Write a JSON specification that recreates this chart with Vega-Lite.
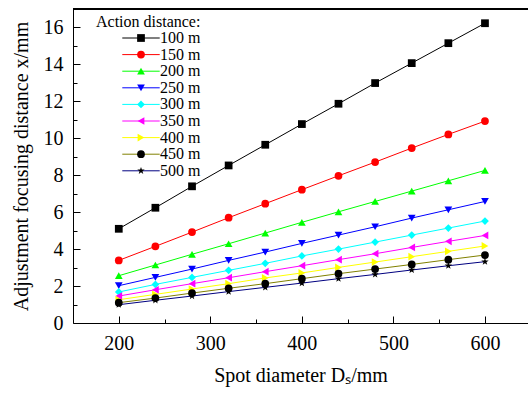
{
  "$schema": "https://vega.github.io/schema/vega-lite/v6.json",
  "autosize": {"type": "none"},
  "padding": {"left": 73, "top": 9, "right": 0, "bottom": 71},
  "width": 455,
  "height": 314,
  "background": "white",
  "config": {
    "view": {"stroke": null},
    "font": "Liberation Serif",
    "axis": {
      "grid": false,
      "labelFont": "Liberation Serif",
      "labelFontSize": 20,
      "labelColor": "black",
      "labelOverlap": false,
      "titleFont": "Liberation Serif",
      "titleFontSize": 20,
      "titleFontWeight": "normal",
      "titleColor": "black",
      "domainColor": "black",
      "domainWidth": 1,
      "tickColor": "black",
      "tickWidth": 1
    },
    "legend": {
      "labelFont": "Liberation Serif",
      "labelFontSize": 16,
      "labelColor": "black",
      "titleFont": "Liberation Serif",
      "titleFontSize": 16,
      "titleFontWeight": "normal",
      "titleColor": "black",
      "padding": 0,
      "rowPadding": 0.6,
      "titlePadding": 0
    }
  },
  "data": {
    "values": [
      {"series": "100 m", "D": 200, "x": 5.10}, {"series": "100 m", "D": 240, "x": 6.24}, {"series": "100 m", "D": 280, "x": 7.40}, {"series": "100 m", "D": 320, "x": 8.53}, {"series": "100 m", "D": 360, "x": 9.65}, {"series": "100 m", "D": 400, "x": 10.77}, {"series": "100 m", "D": 440, "x": 11.87}, {"series": "100 m", "D": 480, "x": 12.99}, {"series": "100 m", "D": 520, "x": 14.07}, {"series": "100 m", "D": 560, "x": 15.15}, {"series": "100 m", "D": 600, "x": 16.23},
      {"series": "150 m", "D": 200, "x": 3.39}, {"series": "150 m", "D": 240, "x": 4.15}, {"series": "150 m", "D": 280, "x": 4.92}, {"series": "150 m", "D": 320, "x": 5.70}, {"series": "150 m", "D": 360, "x": 6.46}, {"series": "150 m", "D": 400, "x": 7.22}, {"series": "150 m", "D": 440, "x": 7.97}, {"series": "150 m", "D": 480, "x": 8.71}, {"series": "150 m", "D": 520, "x": 9.47}, {"series": "150 m", "D": 560, "x": 10.21}, {"series": "150 m", "D": 600, "x": 10.93},
      {"series": "200 m", "D": 200, "x": 2.56}, {"series": "200 m", "D": 240, "x": 3.14}, {"series": "200 m", "D": 280, "x": 3.72}, {"series": "200 m", "D": 320, "x": 4.29}, {"series": "200 m", "D": 360, "x": 4.87}, {"series": "200 m", "D": 400, "x": 5.45}, {"series": "200 m", "D": 440, "x": 6.02}, {"series": "200 m", "D": 480, "x": 6.58}, {"series": "200 m", "D": 520, "x": 7.14}, {"series": "200 m", "D": 560, "x": 7.70}, {"series": "200 m", "D": 600, "x": 8.26},
      {"series": "250 m", "D": 200, "x": 2.02}, {"series": "250 m", "D": 240, "x": 2.47}, {"series": "250 m", "D": 280, "x": 2.92}, {"series": "250 m", "D": 320, "x": 3.39}, {"series": "250 m", "D": 360, "x": 3.84}, {"series": "250 m", "D": 400, "x": 4.31}, {"series": "250 m", "D": 440, "x": 4.76}, {"series": "250 m", "D": 480, "x": 5.21}, {"series": "250 m", "D": 520, "x": 5.68}, {"series": "250 m", "D": 560, "x": 6.13}, {"series": "250 m", "D": 600, "x": 6.58},
      {"series": "300 m", "D": 200, "x": 1.68}, {"series": "300 m", "D": 240, "x": 2.09}, {"series": "300 m", "D": 280, "x": 2.47}, {"series": "300 m", "D": 320, "x": 2.85}, {"series": "300 m", "D": 360, "x": 3.23}, {"series": "300 m", "D": 400, "x": 3.63}, {"series": "300 m", "D": 440, "x": 4.00}, {"series": "300 m", "D": 480, "x": 4.38}, {"series": "300 m", "D": 520, "x": 4.76}, {"series": "300 m", "D": 560, "x": 5.14}, {"series": "300 m", "D": 600, "x": 5.52},
      {"series": "350 m", "D": 200, "x": 1.46}, {"series": "350 m", "D": 240, "x": 1.80}, {"series": "350 m", "D": 280, "x": 2.13}, {"series": "350 m", "D": 320, "x": 2.45}, {"series": "350 m", "D": 360, "x": 2.78}, {"series": "350 m", "D": 400, "x": 3.10}, {"series": "350 m", "D": 440, "x": 3.43}, {"series": "350 m", "D": 480, "x": 3.75}, {"series": "350 m", "D": 520, "x": 4.09}, {"series": "350 m", "D": 560, "x": 4.42}, {"series": "350 m", "D": 600, "x": 4.74},
      {"series": "400 m", "D": 200, "x": 1.26}, {"series": "400 m", "D": 240, "x": 1.55}, {"series": "400 m", "D": 280, "x": 1.84}, {"series": "400 m", "D": 320, "x": 2.13}, {"series": "400 m", "D": 360, "x": 2.44}, {"series": "400 m", "D": 400, "x": 2.71}, {"series": "400 m", "D": 440, "x": 3.01}, {"series": "400 m", "D": 480, "x": 3.30}, {"series": "400 m", "D": 520, "x": 3.59}, {"series": "400 m", "D": 560, "x": 3.88}, {"series": "400 m", "D": 600, "x": 4.17},
      {"series": "450 m", "D": 200, "x": 1.10}, {"series": "450 m", "D": 240, "x": 1.35}, {"series": "450 m", "D": 280, "x": 1.62}, {"series": "450 m", "D": 320, "x": 1.88}, {"series": "450 m", "D": 360, "x": 2.13}, {"series": "450 m", "D": 400, "x": 2.40}, {"series": "450 m", "D": 440, "x": 2.67}, {"series": "450 m", "D": 480, "x": 2.92}, {"series": "450 m", "D": 520, "x": 3.17}, {"series": "450 m", "D": 560, "x": 3.43}, {"series": "450 m", "D": 600, "x": 3.68},
      {"series": "500 m", "D": 200, "x": 0.99}, {"series": "500 m", "D": 240, "x": 1.23}, {"series": "500 m", "D": 280, "x": 1.46}, {"series": "500 m", "D": 320, "x": 1.70}, {"series": "500 m", "D": 360, "x": 1.93}, {"series": "500 m", "D": 400, "x": 2.16}, {"series": "500 m", "D": 440, "x": 2.40}, {"series": "500 m", "D": 480, "x": 2.63}, {"series": "500 m", "D": 520, "x": 2.87}, {"series": "500 m", "D": 560, "x": 3.10}, {"series": "500 m", "D": 600, "x": 3.32}
    ]
  },
  "layer": [
    {
      "mark": {"type": "line", "strokeWidth": 1},
      "encoding": {
        "x": {
          "field": "D", "type": "quantitative",
          "scale": {"domain": [150, 647], "nice": false, "zero": false},
          "axis": {
            "title": "Spot diameter Dₛ/mm",
            "values": [200, 250, 300, 350, 400, 450, 500, 550, 600],
            "labelExpr": "datum.value % 100 === 0 ? datum.label : ''",
            "labelOverlap": false,
            "labelFontSize": {"condition": {"test": "datum.value % 100 === 0", "value": 20}, "value": 1},
            "tickSize": {"condition": {"test": "datum.value % 100 === 0", "value": -7}, "value": -4},
            "labelPadding": 17,
            "titlePadding": 12
          }
        },
        "y": {
          "field": "x", "type": "quantitative",
          "scale": {"domain": [0, 17], "nice": false},
          "axis": {
            "title": "Adjustment focusing distance x/mm",
            "values": [0, 1, 2, 3, 4, 5, 6, 7, 8, 9, 10, 11, 12, 13, 14, 15, 16],
            "labelExpr": "datum.value % 2 === 0 ? datum.label : ''",
            "labelOverlap": false,
            "labelFontSize": {"condition": {"test": "datum.value % 2 === 0", "value": 20}, "value": 1},
            "tickSize": {"condition": {"test": "datum.value % 2 === 0", "value": -7}, "value": -4},
            "labelPadding": 17,
            "titlePadding": 12
          }
        },
        "stroke": {
          "field": "series", "type": "nominal",
          "scale": {
            "domain": ["100 m", "150 m", "200 m", "250 m", "300 m", "350 m", "400 m", "450 m", "500 m", "none"],
            "range": ["#000000", "#ff0000", "#00ff00", "#0000ff", "#00ffff", "#ff00ff", "#ffff00", "#808000", "#000080", "#ffffff"]
          },
          "legend": {
            "title": "Action distance:",
            "values": ["100 m", "150 m", "200 m", "250 m", "300 m", "350 m", "400 m", "450 m", "500 m"],
            "orient": "none",
            "legendX": 23,
            "legendY": 5,
            "labelFont": "Liberation Serif",
            "labelFontSize": 16,
            "labelFontWeight": "normal",
            "titleFont": "Liberation Serif",
            "titleFontSize": 16,
            "titleFontWeight": "normal",
            "symbolType": "M-5,0L5,0",
            "symbolSize": 56,
            "symbolStrokeWidth": 1,
            "symbolOffset": 37,
            "labelOffset": 11,
            "zindex": 0
          }
        }
      }
    },
    {
      "mark": {"type": "point", "filled": true, "size": 60, "opacity": 1, "strokeWidth": 0},
      "encoding": {
        "x": {
          "field": "D", "type": "quantitative",
          "axis": {
            "title": "Spot diameter Dₛ/mm",
            "values": [200, 250, 300, 350, 400, 450, 500, 550, 600],
            "labelExpr": "datum.value % 100 === 0 ? datum.label : ''",
            "labelOverlap": false,
            "labelFontSize": {"condition": {"test": "datum.value % 100 === 0", "value": 20}, "value": 1},
            "tickSize": {"condition": {"test": "datum.value % 100 === 0", "value": -7}, "value": -4},
            "labelPadding": 17,
            "titlePadding": 12
          }
        },
        "y": {
          "field": "x", "type": "quantitative",
          "axis": {
            "title": "Adjustment focusing distance x/mm",
            "values": [0, 1, 2, 3, 4, 5, 6, 7, 8, 9, 10, 11, 12, 13, 14, 15, 16],
            "labelExpr": "datum.value % 2 === 0 ? datum.label : ''",
            "labelOverlap": false,
            "labelFontSize": {"condition": {"test": "datum.value % 2 === 0", "value": 20}, "value": 1},
            "tickSize": {"condition": {"test": "datum.value % 2 === 0", "value": -7}, "value": -4},
            "labelPadding": 17,
            "titlePadding": 12
          }
        },
        "fill": {
          "field": "series", "type": "nominal",
          "scale": {
            "domain": ["100 m", "150 m", "200 m", "250 m", "300 m", "350 m", "400 m", "450 m", "500 m"],
            "range": ["#000000", "#ff0000", "#00ff00", "#0000ff", "#00ffff", "#ff00ff", "#ffff00", "#000000", "#000000"]
          },
          "legend": {
            "title": "Action distance:",
            "orient": "none",
            "legendX": 23,
            "legendY": 5,
            "labelFont": "Liberation Serif",
            "labelFontSize": 16,
            "titleFont": "Liberation Serif",
            "titleFontSize": 16,
            "titleFontWeight": "normal",
            "symbolSize": 60,
            "symbolStrokeWidth": 0,
            "symbolOffset": 37,
            "labelExpr": "''",
            "titleOpacity": 0,
            "zindex": 1
          }
        },
        "shape": {
          "field": "series", "type": "nominal",
          "scale": {
            "domain": ["100 m", "150 m", "200 m", "250 m", "300 m", "350 m", "400 m", "450 m", "500 m"],
            "range": ["square", "circle", "triangle-up", "triangle-down", "diamond", "triangle-left", "triangle-right", "circle", "M0,-1L0.235,-0.324L0.951,-0.309L0.380,0.124L0.588,0.809L0,0.4L-0.588,0.809L-0.380,0.124L-0.951,-0.309L-0.235,-0.324Z"]
          },
          "legend": {
            "title": "Action distance:",
            "orient": "none",
            "legendX": 23,
            "legendY": 5,
            "labelFont": "Liberation Serif",
            "labelFontSize": 16,
            "titleFont": "Liberation Serif",
            "titleFontSize": 16,
            "titleFontWeight": "normal",
            "symbolSize": 60,
            "symbolStrokeWidth": 0,
            "symbolOffset": 37,
            "labelExpr": "''",
            "titleOpacity": 0,
            "zindex": 1
          }
        }
      }
    },
    {
      "mark": {"type": "rule", "color": "black", "strokeWidth": 1},
      "encoding": {
        "y": {
          "datum": 17, "type": "quantitative",
          "axis": {
            "title": "Adjustment focusing distance x/mm",
            "values": [0, 1, 2, 3, 4, 5, 6, 7, 8, 9, 10, 11, 12, 13, 14, 15, 16],
            "labelExpr": "datum.value % 2 === 0 ? datum.label : ''",
            "labelOverlap": false,
            "labelFontSize": {"condition": {"test": "datum.value % 2 === 0", "value": 20}, "value": 1},
            "tickSize": {"condition": {"test": "datum.value % 2 === 0", "value": -7}, "value": -4},
            "labelPadding": 17,
            "titlePadding": 12
          }
        }
      }
    }
  ]
}
